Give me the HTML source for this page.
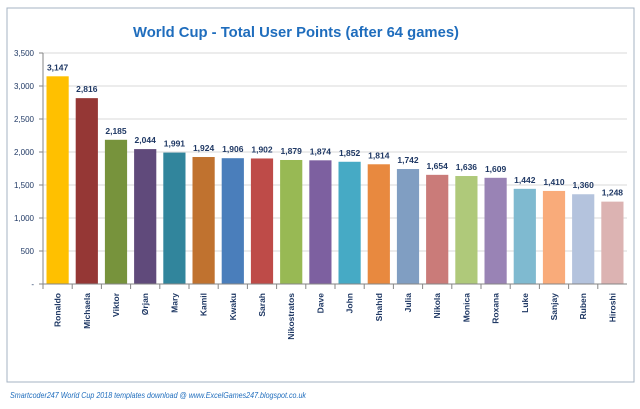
<!DOCTYPE html>
<html><head><meta charset="utf-8"><style>
body{margin:0;width:640px;height:404px;background:#fff;overflow:hidden;font-family:"Liberation Sans",sans-serif}
</style></head><body>
<svg id="c" width="640" height="404" xmlns="http://www.w3.org/2000/svg">
<rect x="7" y="8" width="627" height="374" fill="#fff" stroke="#a5b3c3" stroke-width="1"/>
<text x="296" y="37" text-anchor="middle" font-size="15" font-weight="bold" fill="#1f6dbd" textLength="326" lengthAdjust="spacingAndGlyphs">World Cup - Total User Points (after 64 games)</text>
<text x="10" y="398" font-size="8.5" font-style="italic" fill="#1f6dbd" textLength="296" lengthAdjust="spacingAndGlyphs">Smartcoder247 World Cup 2018 templates download @ www.ExcelGames247.blogspot.co.uk</text>
<g id="g"></g>
</svg>
<script>
const categories=["Ronaldo","Michaela","Viktor","Ørjan","Mary","Kamil","Kwaku","Sarah","Nikostratos","Dave","John","Shahid","Julia","Nikola","Monica","Roxana","Luke","Sanjay","Ruben","Hiroshi"];
const values=[3147,2816,2185,2044,1991,1924,1906,1902,1879,1874,1852,1814,1742,1654,1636,1609,1442,1410,1360,1248];
const yTicks=[0,500,1000,1500,2000,2500,3000,3500];
const yTickLabels=["-","500","1,000","1,500","2,000","2,500","3,000","3,500"];
const colors=["#ffc000","#953735","#77933c","#604a7b","#31859c","#c0722f","#4a7ebb","#be4b48","#98b954","#7d60a0","#46aac5","#e8893f","#809ec2","#ca7b79","#afc97a","#9983b5","#7fbad0","#f9ab7a","#b4c3dd","#dcb3b2"];
const X0=43,X1=627,Y0=284,Y1=53,MAX=3500;
const y=v=>Y0-(v/MAX)*(Y0-Y1);
const bw=(X1-X0)/categories.length;
const x=i=>X0+i*bw;
const g=document.getElementById('g');
const NS="http://www.w3.org/2000/svg";
function mk(t,a){const e=document.createElementNS(NS,t);for(const k in a)e.setAttribute(k,a[k]);g.appendChild(e);return e;}
yTicks.forEach((t,i)=>{
 if(t>0){const l=mk('line',{x1:X0,x2:X1,y1:y(t),y2:y(t),stroke:'#d9d9d9','stroke-width':1});
 
 }
 const tk=mk('line',{x1:X0-4,x2:X0,y1:y(t),y2:y(t),stroke:'#868686'});
 
 
 const tx=mk('text',{x:X0-9,y:y(t)+3,'text-anchor':'end','font-size':8,'fill':'#1f3864'});
 tx.textContent=yTickLabels[i];
 
 
});
categories.forEach((c,i)=>{
 const v=values[i];
 const r=mk('rect',{x:x(i)+3.5,y:y(v),width:bw-7,height:Y0-y(v),fill:colors[i]});
 
 
 const lb=mk('text',{x:x(i)+bw/2,y:y(v)-6,'text-anchor':'middle','font-size':8.5,'font-weight':'bold','fill':'#1f3864'});
 lb.textContent=v.toLocaleString('en-US');
 
 
 const tk=mk('line',{x1:x(i),x2:x(i),y1:Y0,y2:Y0+5,stroke:'#868686'});
 
 
 const cx=x(i)+bw/2+3, cy=Y0+9;
 const ct=mk('text',{x:cx,y:cy,'text-anchor':'end','font-size':8.5,'font-weight':'bold','fill':'#1f3864',transform:`rotate(-90 ${cx} ${cy})`});
 ct.textContent=c;
 
 
});
const ax=mk('line',{x1:X0,x2:X1,y1:Y0,y2:Y0,stroke:'#868686'});


const ay=mk('line',{x1:X0,x2:X0,y1:Y0,y2:Y1,stroke:'#868686'});


</script>
</body></html>
